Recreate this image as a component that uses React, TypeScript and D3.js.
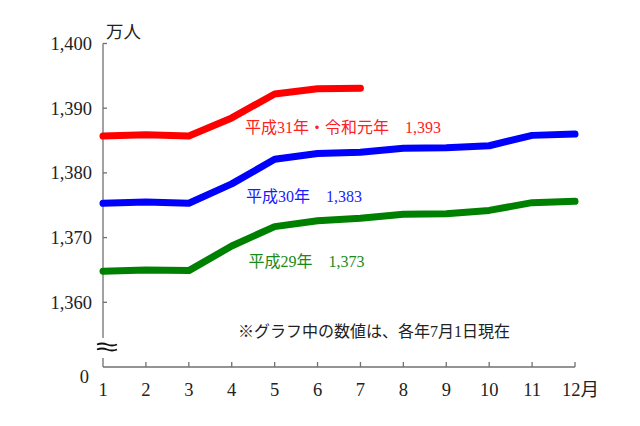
import React from "react";
import * as d3 from "d3";

const months = [1, 2, 3, 4, 5, 6, 7, 8, 9, 10, 11, 12];
const xTickLabels = ["1", "2", "3", "4", "5", "6", "7", "8", "9", "10", "11", "12月"];
const yTicks = [1360, 1370, 1380, 1390, 1400];
const seriesH31 = [1385.7, 1385.9, 1385.7, 1388.5, 1392.2, 1393.0, 1393.1];
const seriesH30 = [1375.3, 1375.5, 1375.3, 1378.3, 1382.1, 1383.0, 1383.2, 1383.8, 1383.9, 1384.2, 1385.8, 1386.0];
const seriesH29 = [1364.8, 1365.0, 1364.9, 1368.7, 1371.7, 1372.6, 1373.0, 1373.6, 1373.7, 1374.2, 1375.4, 1375.6];
const seriesNames = ["平成31年・令和元年　1,393", "平成30年　1,383", "平成29年　1,373"];
const seriesColors = ["#ff0000", "#0000ff", "#008000"];
const labelColors = ["#ff2020", "#1a1aff", "#1a8a1a"];
const labelAnchorMonth = [4.31, 4.33, 4.39];
const labelValue = [1386.2, 1375.55, 1365.45];

const FONT = '"Liberation Serif", "Times New Roman", "DejaVu Serif", "Noto Sans CJK JP", serif';

export default function App() {
  const x = d3.scaleLinear().domain([1, 12]).range([103, 575]);
  const y = d3.scaleLinear().domain([1360, 1400]).range([302.3, 43.5]);
  const zeroY = 367;
  const line = d3
    .line<number>()
    .x((_, i) => x(months[i]))
    .y((d) => y(d));
  const allSeries = [seriesH31, seriesH30, seriesH29];
  const fmt = d3.format(",");
  const axisColor = "#707070";
  return (
    <svg
      width={640}
      height={426}
      style={{ position: "absolute", left: 0, top: 0, background: "#fff", fontFamily: FONT }}
    >
      {/* y axis */}
      <line x1={103} x2={103} y1={y(1400)} y2={338} stroke={axisColor} strokeWidth={1.3} />
      <line x1={103} x2={103} y1={358} y2={zeroY} stroke={axisColor} strokeWidth={1.3} />
      {yTicks.map((t) => (
        <g key={t}>
          <line x1={103} x2={107} y1={y(t)} y2={y(t)} stroke={axisColor} strokeWidth={1.3} />
          <text x={92} y={y(t) + 6.5} textAnchor="end" fontSize={18.5} fill="#222">
            {fmt(t)}
          </text>
        </g>
      ))}
      <text x={89} y={383} textAnchor="end" fontSize={18.5} fill="#222">0</text>
      <text x={106} y={38} fontSize={17.5} fill="#222">万人</text>
      {/* break marker */}
      <path d="M97,344.5 q5,-2 10,0 t10,0" fill="none" stroke="#111" strokeWidth={1.8} />
      <path d="M97,349.5 q5,-2 10,0 t10,0" fill="none" stroke="#111" strokeWidth={1.8} />
      {/* x axis */}
      <line x1={103} x2={x(12)} y1={zeroY} y2={zeroY} stroke={axisColor} strokeWidth={1.3} />
      {months.map((m, i) => (
        <g key={m}>
          {i > 0 && (
            <line x1={x(m)} x2={x(m)} y1={zeroY} y2={zeroY - 5} stroke={axisColor} strokeWidth={1.3} />
          )}
          <text
            x={i === 11 ? x(m) - 13 : x(m)}
            y={395.5}
            textAnchor={i === 11 ? "start" : "middle"}
            fontSize={18.5}
            fill="#222"
          >
            {xTickLabels[i]}
          </text>
        </g>
      ))}
      {/* lines */}
      {allSeries.map((s, i) => (
        <path
          key={i}
          d={line(s) || ""}
          fill="none"
          stroke={seriesColors[i]}
          strokeWidth={7}
          strokeLinejoin="round"
          strokeLinecap="round"
        />
      ))}
      {allSeries.map((_, i) => (
        <text key={i} x={x(labelAnchorMonth[i])} y={y(labelValue[i])} fontSize={16} fill={labelColors[i]}>
          {seriesNames[i]}
        </text>
      ))}
      <text x={238} y={337} fontSize={16} fill="#222">※グラフ中の数値は、各年7月1日現在</text>
    </svg>
  );
}
